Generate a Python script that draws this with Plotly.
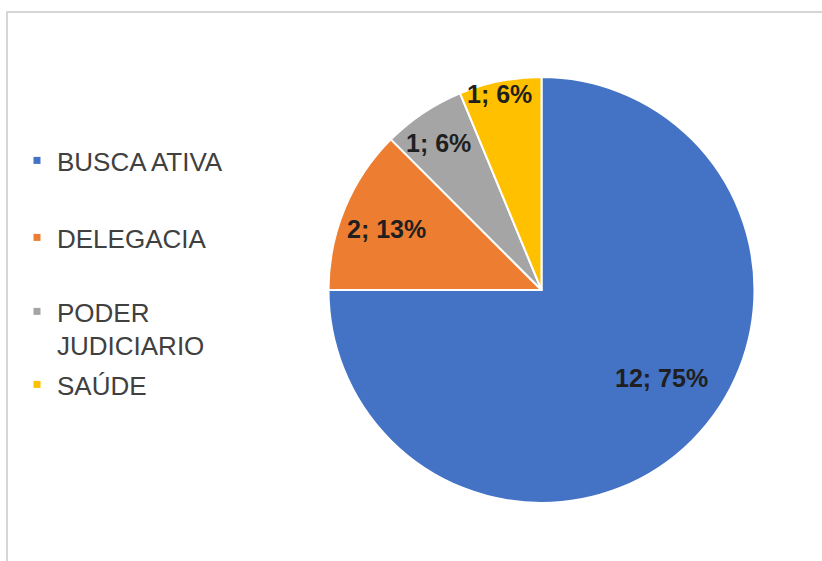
import math
import plotly.graph_objects as go

# Origem dos casos
labels = ["BUSCA ATIVA", "DELEGACIA", "PODER JUDICIARIO", "SAÚDE"]
legend_text = ["BUSCA ATIVA", "DELEGACIA", "PODER<br>JUDICIARIO", "SAÚDE"]
values = [12, 2, 1, 1]
colors = ["#4472C4", "#ED7D31", "#A5A5A5", "#FFC000"]

# data label placement: distance from centre (fraction of radius) and
# angular nudge (degrees) away from each slice's mid-angle
label_radius = [0.70, 0.782, 0.845, 0.94]
label_nudge = [-8.7, -1.0, -1.3, -1.0]

W, H = 822, 561
FONT = "Liberation Sans, Arial, sans-serif"

# pie box in pixels
px_left, px_right, px_top, px_bottom = 328, 755, 77, 503
dom_x = [px_left / W, px_right / W]
dom_y = [1 - px_bottom / H, 1 - px_top / H]

fig = go.Figure()

fig.add_trace(go.Pie(
    labels=labels,
    values=values,
    marker=dict(colors=colors, line=dict(color="white", width=2)),
    sort=False,
    direction="clockwise",
    rotation=0,
    textinfo="none",
    showlegend=False,
    hoverinfo="label+value+percent",
    domain=dict(x=dom_x, y=dom_y),
))

# data labels "valor; percentual" placed along each slice's mid-angle
total = sum(values)
cx = (dom_x[0] + dom_x[1]) / 2
cy = (dom_y[0] + dom_y[1]) / 2
radius_px = min(px_right - px_left, px_bottom - px_top) / 2
annotations = []
cum = 0
for v, frac, nudge in zip(values, label_radius, label_nudge):
    mid = (cum + v / 2) / total * 2 * math.pi + math.radians(nudge)  # clockwise from 12h
    cum += v
    r = radius_px * frac
    x = cx + r * math.sin(mid) / W
    y = cy + r * math.cos(mid) / H
    pct = round(v / total * 100 + 1e-9)
    annotations.append(dict(
        x=x, y=y, xref="paper", yref="paper", showarrow=False,
        text=f"<b>{v}; {pct}%</b>",
        font=dict(family=FONT, size=25, color="#1f1f1f"),
        xanchor="center", yanchor="middle",
    ))

# Legend entries, one legend box per category so each row can be spaced freely
legend_y = [162, 239, 313, 386]
for i, (name, col) in enumerate(zip(legend_text, colors)):
    key = "legend" if i == 0 else f"legend{i + 1}"
    fig.add_trace(go.Scatter(
        x=[None], y=[None], mode="markers", name=name,
        marker=dict(symbol="square", size=7, color=col),
        legend=key, hoverinfo="skip",
    ))

legend_style = dict(
    x=17 / W, xanchor="left", yanchor="top",
    bgcolor="rgba(0,0,0,0)", borderwidth=0,
    font=dict(family=FONT, size=26, color="#404040"),
    itemclick=False, itemdoubleclick=False, valign="top",
)
legends = {}
for i, yy in enumerate(legend_y):
    key = "legend" if i == 0 else f"legend{i + 1}"
    legends[key] = dict(legend_style, y=1 - (yy - 25) / H)

fig.update_layout(
    width=W, height=H,
    margin=dict(l=0, r=0, t=0, b=0),
    paper_bgcolor="white", plot_bgcolor="white",
    xaxis=dict(visible=False), yaxis=dict(visible=False),
    showlegend=True,
    annotations=annotations,
    shapes=[dict(type="rect", xref="paper", yref="paper",
                 x0=7 / W, x1=1.02, y0=-0.02, y1=1 - 12 / H,
                 line=dict(color="#d6d6d6", width=2), fillcolor="rgba(0,0,0,0)",
                 layer="below")],
    **legends,
)

fig.write_html("out.html")
